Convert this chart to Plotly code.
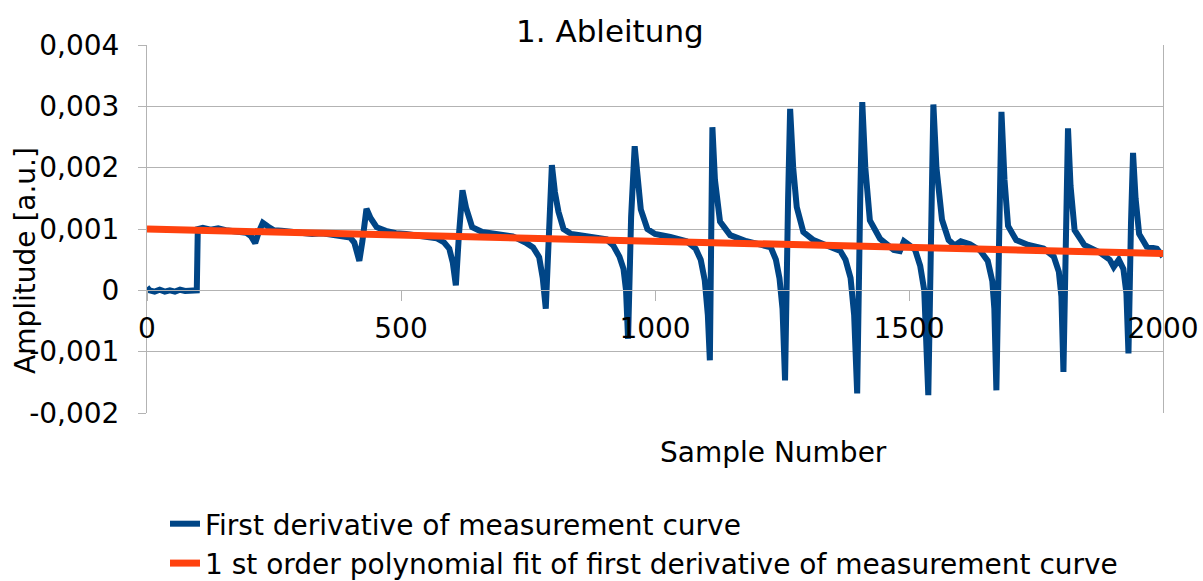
import plotly.graph_objects as go

# ---- data ----
sample_number = [
    0, 5, 15, 25, 35, 45, 55, 65, 75, 85, 95, 98,
    100, 110, 125, 140, 155, 170, 185, 195,
    205, 213, 220, 228, 238, 250, 265, 285, 305, 325, 345, 365, 385, 400,
    408, 414, 418, 424, 432, 440, 452, 470, 490, 510, 530, 550, 570, 585, 595, 602, 608,
    614, 621, 628, 640, 660, 690, 720, 745, 760, 772, 779, 785,
    791, 797, 803, 810, 820, 835, 852, 885, 905, 918, 930, 938, 943, 947,
    953, 960, 965, 972, 985, 1000, 1030, 1062, 1080, 1090, 1098, 1104, 1108,
    1113, 1118, 1128, 1148, 1180, 1210, 1228, 1238, 1245, 1251, 1256,
    1262, 1266, 1272, 1279, 1292, 1312, 1344, 1365, 1375, 1385, 1392, 1398,
    1404, 1408, 1414, 1423, 1443, 1470, 1482, 1490, 1500, 1512, 1522, 1530, 1538,
    1544, 1548, 1554, 1565, 1578, 1590, 1602, 1620, 1640, 1655, 1664, 1668, 1672,
    1678, 1682, 1688, 1695, 1711, 1735, 1765, 1785, 1795, 1800, 1804,
    1809, 1813, 1818, 1826, 1845, 1875, 1895, 1903, 1913, 1922, 1928, 1932,
    1937, 1941, 1946, 1953, 1968, 1988, 2000,
]
first_derivative = [
    0.00005, 0.00000, -0.00002, 0.00001, -0.00002, 0.00000, -0.00002, 0.00001, -0.00001, 0.00000, -0.00001, 0.00000,
    0.00100, 0.00102, 0.00099, 0.00101, 0.00098, 0.00097, 0.00095, 0.00094,
    0.00088, 0.00077, 0.00095, 0.00110, 0.00104, 0.00098, 0.00097, 0.00095, 0.00094, 0.00092, 0.00093, 0.00091, 0.00089, 0.00086,
    0.00078, 0.00060, 0.00048, 0.00080, 0.00133, 0.00118, 0.00103, 0.00097, 0.00093, 0.00092, 0.00090, 0.00088, 0.00085, 0.00078, 0.00068, 0.00045, 0.00008,
    0.00090, 0.00163, 0.00135, 0.00103, 0.00095, 0.00092, 0.00088, 0.00078, 0.00070, 0.00054, 0.00020, -0.00030,
    0.00100, 0.00204, 0.00160, 0.00128, 0.00100, 0.00092, 0.00090, 0.00087, 0.00083, 0.00073, 0.00055, 0.00035, 0.00000, -0.00079,
    0.00120, 0.00235, 0.00180, 0.00132, 0.00100, 0.00092, 0.00087, 0.00080, 0.00068, 0.00050, 0.00016, -0.00040, -0.00114,
    0.00266, 0.00180, 0.00112, 0.00090, 0.00080, 0.00074, 0.00070, 0.00050, 0.00020, -0.00030, -0.00147,
    0.00150, 0.00296, 0.00200, 0.00136, 0.00095, 0.00082, 0.00071, 0.00064, 0.00050, 0.00020, -0.00040, -0.00168,
    0.00150, 0.00307, 0.00200, 0.00114, 0.00084, 0.00066, 0.00064, 0.00080, 0.00074, 0.00066, 0.00040, 0.00000, -0.00171,
    0.00150, 0.00303, 0.00200, 0.00115, 0.00082, 0.00073, 0.00080, 0.00075, 0.00065, 0.00048, 0.00015, -0.00030, -0.00163,
    0.00150, 0.00291, 0.00180, 0.00105, 0.00082, 0.00074, 0.00068, 0.00055, 0.00030, -0.00010, -0.00133,
    0.00130, 0.00264, 0.00170, 0.00098, 0.00074, 0.00062, 0.00050, 0.00038, 0.00050, 0.00035, -0.00005, -0.00103,
    0.00110, 0.00224, 0.00150, 0.00092, 0.00071, 0.00068, 0.00055,
]
fit_x = [0, 2000]
fit_y = [0.00100, 0.00060]

y_tick_values = [0.004, 0.003, 0.002, 0.001, 0, -0.001, -0.002]
y_tick_labels = ["0,004", "0,003", "0,002", "0,001", "0", "-0,001", "-0,002"]
x_tick_values = [0, 500, 1000, 1500, 2000]
x_tick_labels = ["0", "500", "1000", "1500", "2000"]

FONT = "DejaVu Sans"
GRID = "#b3b3b3"

fig = go.Figure()
fig.add_trace(go.Scatter(
    x=sample_number, y=first_derivative, mode="lines",
    name="First derivative of measurement curve",
    line=dict(color="#004586", width=6, shape="linear"),
    cliponaxis=False,
))
fig.add_trace(go.Scatter(
    x=fit_x, y=fit_y, mode="lines",
    name="1 st order polynomial fit of first derivative of measurement curve",
    line=dict(color="#ff420e", width=7),
    cliponaxis=False,
))

fig.update_layout(
    width=1203, height=581,
    margin=dict(l=147, r=40, t=45, b=168, autoexpand=False),
    paper_bgcolor="white", plot_bgcolor="white",
    font=dict(family=FONT, size=28, color="black"),
    showlegend=True,
    legend=dict(
        x=(165 - 147) / 1016, y=-(499 - 413) / 368, xanchor="left", yanchor="top",
        font=dict(family=FONT, size=28, color="black"),
        bgcolor="rgba(0,0,0,0)", tracegroupgap=0,
    ),
    xaxis=dict(
        range=[0, 2000], anchor="free", position=1 / 3,
        tickvals=x_tick_values, ticktext=x_tick_labels,
        showgrid=False, zeroline=False,
        showline=True, linecolor=GRID, linewidth=1,
        ticks="outside", ticklen=10, tickcolor=GRID, tickwidth=1,
        ticklabelstandoff=3,
        tickfont=dict(family=FONT, size=28, color="black"),
    ),
    yaxis=dict(
        range=[-0.002, 0.004],
        tickvals=y_tick_values, ticktext=y_tick_labels,
        showgrid=True, gridcolor=GRID, gridwidth=1, zeroline=False,
        showline=True, linecolor=GRID, linewidth=1, mirror=True,
        ticks="outside", ticklen=8, tickcolor=GRID, tickwidth=1,
        ticklabelstandoff=13,
        tickfont=dict(family=FONT, size=28, color="black"),
    ),
    annotations=[
        dict(text="1. Ableitung", xref="paper", yref="paper",
             x=(610 - 147) / 1016, y=1 + (45 - 31) / 368,
             xanchor="center", yanchor="middle", showarrow=False,
             font=dict(family=FONT, size=31, color="black")),
        dict(text="Sample Number", xref="paper", yref="paper",
             x=(773 - 147) / 1016, y=-(452 - 413) / 368,
             xanchor="center", yanchor="middle", showarrow=False,
             font=dict(family=FONT, size=28, color="black")),
        dict(text="Amplitude [a.u.]", xref="paper", yref="paper",
             x=-(147 - 25) / 1016, y=(413 - 261) / 368,
             xanchor="center", yanchor="middle", showarrow=False, textangle=-90,
             font=dict(family=FONT, size=28, color="black")),
    ],
)

fig.write_html("out.html")
